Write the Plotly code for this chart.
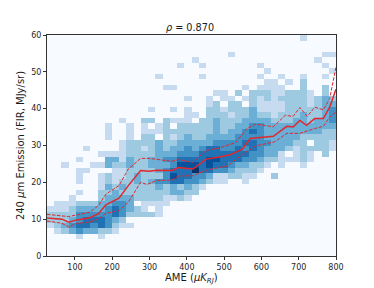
import plotly.graph_objs as go

# density levels per bin, top row first (40 x 40 bins)
density = [
    [0,0,0,0,0,0,0,0,0,0, 0,0,0,0,0,0,0,0,0,0, 0,0,0,0,0,0,0,0,0,0, 0,0,0,0,0,2,0,0,0,0],
    [0,0,0,0,0,0,0,0,0,0, 0,0,0,0,0,0,0,0,0,0, 0,0,0,0,0,0,0,0,0,0, 0,0,0,0,0,0,0,0,0,0],
    [0,0,0,0,0,0,0,0,0,0, 0,0,0,0,0,0,0,0,0,0, 0,0,0,0,0,0,0,0,0,0, 0,0,0,0,0,0,0,0,0,0],
    [0,0,0,0,0,0,0,0,0,0, 0,0,0,0,0,0,0,0,0,0, 0,0,0,0,0,2,0,0,0,0, 0,0,0,0,0,0,0,0,2,2],
    [0,0,0,0,0,0,0,0,0,0, 0,0,0,0,0,0,0,0,0,0, 2,0,0,0,0,0,0,0,0,0, 0,0,0,0,0,0,0,2,0,0],
    [0,0,0,0,0,0,0,0,0,0, 0,0,0,0,0,0,0,0,2,0, 0,2,0,0,0,0,0,0,0,2, 0,0,0,0,0,0,0,0,2,0],
    [0,0,0,0,0,0,0,0,0,0, 0,0,0,0,0,0,0,0,0,0, 0,0,0,0,0,0,0,0,0,0, 2,0,0,0,0,0,0,0,0,2],
    [0,0,0,0,0,0,0,0,0,0, 0,0,0,0,0,2,0,0,0,0, 0,2,0,0,0,0,0,0,0,2, 0,0,2,0,0,2,0,0,2,0],
    [0,0,0,0,0,0,0,0,0,0, 0,0,0,0,0,0,0,0,0,0, 0,0,0,0,0,0,0,0,0,0, 2,2,0,2,0,3,0,0,0,0],
    [0,0,0,0,0,0,0,0,0,0, 0,0,0,0,0,0,2,2,0,0, 0,0,0,0,0,0,0,2,0,2, 2,2,2,0,0,3,0,0,3,0],
    [0,0,0,0,0,0,0,0,0,0, 0,0,0,0,0,0,0,0,0,0, 0,0,0,2,2,0,3,0,3,3, 3,2,2,3,3,3,2,0,3,0],
    [0,0,0,0,0,0,0,0,0,0, 0,0,0,0,0,0,0,0,0,2, 0,0,2,0,2,2,0,2,3,2, 3,2,3,3,3,3,2,3,4,3],
    [0,0,0,0,0,0,0,0,0,0, 0,0,0,0,0,0,0,0,0,0, 0,0,2,3,0,3,3,0,3,2, 2,2,2,3,3,3,2,3,4,4],
    [0,0,0,0,0,0,0,0,0,0, 0,0,0,0,2,0,0,2,0,2, 0,0,3,3,2,3,3,3,4,2, 2,2,2,3,3,3,3,3,4,5],
    [0,0,0,0,0,0,0,0,0,0, 0,0,0,0,0,0,0,0,0,2, 2,0,3,3,3,2,3,3,4,3, 3,2,3,3,3,4,3,3,4,5],
    [0,0,0,0,0,0,0,0,0,0, 2,0,0,3,3,0,3,2,2,2, 0,3,3,4,3,3,3,4,4,4, 4,3,3,3,4,4,3,4,4,5],
    [0,0,0,0,0,0,0,0,2,0, 0,2,0,2,0,2,3,0,3,3, 3,3,3,4,3,3,4,4,5,5, 4,4,4,4,4,4,4,4,4,4],
    [0,0,0,0,0,0,0,0,2,0, 0,2,0,2,2,2,3,3,3,3, 3,3,3,4,3,4,4,5,6,5, 4,4,4,4,4,4,4,4,3,3],
    [0,0,0,0,0,0,0,0,2,0, 0,2,0,3,3,0,3,2,3,4, 3,3,4,4,4,4,5,5,5,5, 4,4,4,4,4,3,3,3,3,3],
    [0,0,0,0,0,0,0,0,0,0, 2,3,3,3,3,4,3,3,4,4, 4,4,4,5,5,5,5,6,6,5, 5,4,4,4,3,3,0,3,3,2],
    [0,0,0,0,0,2,0,0,0,0, 2,3,3,2,3,4,3,4,4,5, 4,5,6,6,5,5,6,5,6,5, 4,4,4,3,2,3,3,3,3,2],
    [0,0,0,0,0,0,0,2,2,2, 2,3,3,3,3,4,4,4,5,5, 5,6,6,6,6,6,6,6,5,5, 4,4,2,0,2,3,2,0,3,0],
    [0,0,0,0,2,0,0,0,4,4, 2,4,3,3,4,4,5,5,6,6, 6,6,7,7,6,6,6,5,5,4, 3,3,2,2,2,3,2,0,0,0],
    [0,0,2,0,0,0,2,2,4,3, 3,4,3,3,4,4,4,5,7,7, 7,6,7,6,6,5,4,4,3,3, 2,0,2,0,0,2,0,0,0,0],
    [0,0,0,0,2,2,0,0,0,2, 2,3,3,3,3,4,5,6,6,6, 8,6,6,5,5,4,3,3,3,2, 0,0,0,0,0,0,0,0,0,0],
    [0,0,0,0,2,0,0,2,3,2, 2,3,4,3,3,3,5,7,6,6, 5,5,4,2,2,3,3,2,2,0, 0,3,0,0,0,0,0,0,0,0],
    [0,0,0,0,2,0,0,2,3,2, 3,3,4,3,4,5,5,6,6,5, 5,4,3,2,2,0,0,2,0,0, 0,0,0,0,0,0,0,0,0,0],
    [0,0,0,0,0,0,0,2,4,3, 4,3,3,3,3,4,3,4,3,4, 3,2,0,0,0,0,0,0,0,0, 0,0,0,0,0,0,0,0,0,0],
    [0,0,0,0,2,0,0,3,3,4, 3,3,3,3,3,3,3,4,4,3, 3,0,0,0,0,0,0,0,0,0, 0,0,0,0,0,0,0,0,0,0],
    [0,0,0,2,0,0,0,3,4,4, 4,4,3,3,3,3,2,2,3,2, 0,0,0,0,0,0,0,0,0,0, 0,0,0,0,0,0,0,0,0,0],
    [0,2,2,2,3,3,3,4,4,5, 5,4,0,2,2,2,2,0,0,0, 0,0,0,0,0,0,0,0,0,0, 0,0,0,0,0,0,0,0,0,0],
    [2,2,2,3,4,4,4,4,5,6, 5,4,3,2,0,2,0,0,0,0, 0,0,0,0,0,0,0,0,0,0, 0,0,0,0,0,0,0,0,0,0],
    [3,3,3,3,5,5,5,5,5,6, 5,3,3,3,3,2,0,0,0,0, 0,0,0,0,0,0,0,0,0,0, 0,0,0,0,0,0,0,0,0,0],
    [3,3,3,4,5,6,6,6,5,4, 3,0,0,0,0,0,0,0,0,0, 0,0,0,0,0,0,0,0,0,0, 0,0,0,0,0,0,0,0,0,0],
    [2,3,4,5,6,6,5,6,5,3, 2,2,0,0,0,0,0,0,0,0, 0,0,0,0,0,0,0,0,0,0, 0,0,0,0,0,0,0,0,0,0],
    [0,2,3,4,5,4,4,3,3,2, 0,0,0,0,0,0,0,0,0,0, 0,0,0,0,0,0,0,0,0,0, 0,0,0,0,0,0,0,0,0,0],
    [0,0,0,0,2,0,0,2,0,0, 0,0,0,0,0,0,0,0,0,0, 0,0,0,0,0,0,0,0,0,0, 0,0,0,0,0,0,0,0,0,0],
    [0,0,0,0,0,0,0,0,0,0, 0,0,0,0,0,0,0,0,0,0, 0,0,0,0,0,0,0,0,0,0, 0,0,0,0,0,0,0,0,0,0],
    [0,0,0,0,0,0,0,0,0,0, 0,0,0,0,0,0,0,0,0,0, 0,0,0,0,0,0,0,0,0,0, 0,0,0,0,0,0,0,0,0,0],
    [0,0,0,0,0,0,0,0,0,0, 0,0,0,0,0,0,0,0,0,0, 0,0,0,0,0,0,0,0,0,0, 0,0,0,0,0,0,0,0,0,0],
]

median_x = [25, 65, 83, 105, 140, 163, 183, 218, 243, 276, 300, 319, 360, 377, 416, 452, 487, 514, 549, 570, 632, 659, 668, 685, 703, 721, 743, 766, 783, 800]
median_y = [10.3, 10.0, 9.2, 9.8, 10.4, 11.5, 13.9, 15.7, 19.1, 23.2, 23.0, 23.3, 23.2, 24.0, 23.6, 26.3, 26.9, 27.4, 29.0, 31.9, 32.5, 34.6, 35.2, 35.0, 36.8, 35.5, 37.3, 37.3, 40.4, 45.3]

upper_x = [25, 65, 83, 140, 163, 183, 218, 243, 276, 300, 337, 360, 377, 416, 452, 487, 531, 561, 585, 632, 664, 685, 703, 723, 743, 766, 783, 800]
upper_y = [11.3, 11.0, 10.7, 11.9, 13.7, 16.8, 19.1, 23.6, 26.5, 26.5, 25.9, 25.7, 26.2, 25.4, 28.7, 29.3, 30.8, 34.6, 35.8, 35.1, 38.2, 37.9, 40.3, 37.9, 40.4, 39.7, 42.7, 51.3]

lower_x = [25, 65, 83, 105, 140, 163, 183, 218, 243, 276, 293, 319, 360, 377, 416, 452, 510, 549, 585, 636, 668, 703, 743, 766, 783, 800]
lower_y = [9.5, 8.9, 7.9, 8.9, 9.2, 10.1, 11.6, 12.3, 14.6, 20.0, 19.4, 20.5, 20.6, 21.7, 21.8, 23.3, 24.5, 27.6, 29.9, 31.0, 33.3, 33.3, 34.6, 35.2, 37.7, 39.1]

x_ticks = [100, 200, 300, 400, 500, 600, 700, 800]
y_ticks = [0, 10, 20, 30, 40, 50, 60]

fig = go.Figure()
fig.add_trace(go.Heatmap(
    z=density[::-1],
    x0=25 + 19.375 / 2,
    dx=19.375,
    y0=0.75,
    dy=1.5,
    colorscale='Blues',
    zmin=0,
    zmax=8,
    showscale=False,
))
fig.add_trace(go.Scatter(x=median_x, y=median_y, mode='lines', line=dict(color='#e0282c', width=1.5)))
fig.add_trace(go.Scatter(x=upper_x, y=upper_y, mode='lines', line=dict(color='#e0282c', width=1, dash='3.5px,1.5px')))
fig.add_trace(go.Scatter(x=lower_x, y=lower_y, mode='lines', line=dict(color='#e0282c', width=1, dash='3.5px,1.5px')))

axis_style = dict(
    showgrid=False,
    zeroline=False,
    showline=True,
    mirror=True,
    linecolor='#333333',
    linewidth=1,
    ticks='outside',
    ticklen=3,
    tickwidth=0.8,
    tickcolor='#333333',
    tickfont=dict(size=8, color='#262626'),
)

fig.update_layout(
    width=374,
    height=288,
    margin=dict(l=46.5, r=37.5, t=34.5, b=32),
    paper_bgcolor='white',
    plot_bgcolor='#f7fbff',
    font=dict(family='DejaVu Sans', color='#1a1a1a'),
    showlegend=False,
    title=dict(text='<i>ρ</i> = 0.870', x=0.508, xanchor='center', y=0.905, yanchor='middle', font=dict(size=9.7)),
    xaxis=dict(range=[25, 800], tickvals=x_ticks, automargin=False, **axis_style),
    yaxis=dict(
        range=[0, 60], tickvals=y_ticks, automargin=True,
        title=dict(text='240 <i>μ</i>m Emission (FIR, MJy/sr)', font=dict(size=10), standoff=4),
        **axis_style),
    annotations=[dict(
        text='AME (<i>μK<sub>RJ</sub></i>)', xref='paper', yref='paper', x=0.5, y=-0.104,
        xanchor='center', yanchor='middle', showarrow=False, font=dict(size=10),
    )],
)

fig.write_html("out.html", config=dict(displayModeBar=False), post_script="document.body.style.margin='0';")
